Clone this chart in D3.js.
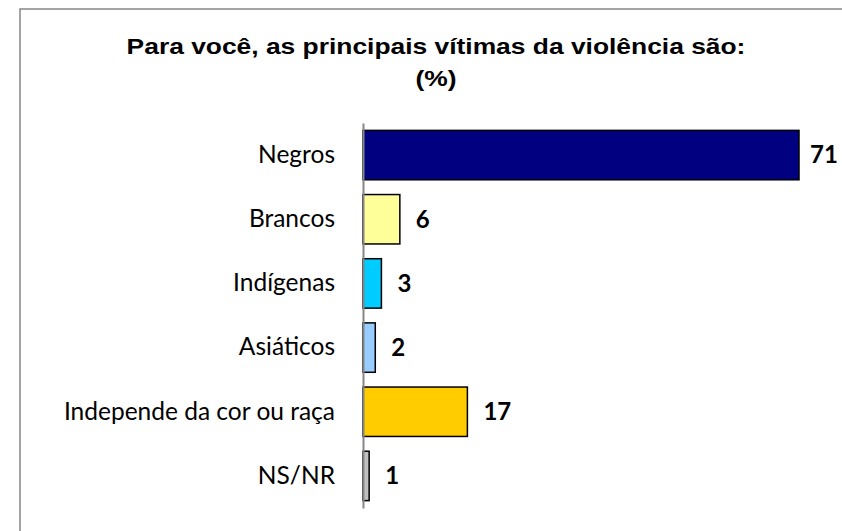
<!DOCTYPE html>
<html>
<head>
<meta charset="utf-8">
<script src="https://cdn.jsdelivr.net/npm/d3@7"></script>
<style>
  body { margin: 0; background: #fff; }
</style>
</head>
<body>
<div id="chart"></div>
<script>
const titleLines = ['Para você, as principais vítimas da violência são:', '(%)'];
const categories = ['Negros', 'Brancos', 'Indígenas', 'Asiáticos', 'Independe da cor ou raça', 'NS/NR'];
const values = [71, 6, 3, 2, 17, 1];
const colors = ['#000080', '#FFFF99', '#00CCFF', '#99CCFF', '#FFCC00', '#C0C0C0'];

const data = categories.map((c, i) => ({cat: c, value: values[i], color: colors[i]}));

const svg = d3.select('#chart').append('svg').attr('width', 842).attr('height', 531);

// chart border (only top/left visible in frame)
svg.append('rect')
    .attr('x', 20).attr('y', 9)
    .attr('width', 840).attr('height', 540)
    .attr('fill', 'none')
    .attr('stroke', '#868686')
    .attr('stroke-width', 1.5);

// title is stretched a bit wider than normal, like the original picture
svg.append('text')
    .attr('transform', 'translate(436,0) scale(1.2,1)')
    .attr('text-anchor', 'middle')
    .attr('font-family', '"Liberation Sans", Arial, sans-serif')
    .attr('font-weight', 'bold')
    .attr('font-size', 22)
    .selectAll('tspan')
    .data(titleLines)
    .join('tspan')
    .attr('x', 0)
    .attr('y', (d, i) => 54 + i * 32)
    .text(d => d);

const margin = {top: 123, left: 363},
      width = 436,
      height = 385;

const x = d3.scaleLinear().domain([0, d3.max(values)]).range([0, width]);
const y = d3.scaleBand().domain(categories).range([0, height]).paddingInner(0.23).paddingOuter(0.115);

const g = svg.append('g')
    .attr('transform', `translate(${margin.left},${margin.top})`);

g.selectAll('rect.bar')
    .data(data)
    .join('rect')
    .attr('class', 'bar')
    .attr('x', 0)
    .attr('y', d => y(d.cat))
    .attr('width', d => x(d.value))
    .attr('height', y.bandwidth())
    .attr('fill', d => d.color)
    .attr('stroke', '#000')
    .attr('stroke-width', 1.5);

const yAxis = g.append('g')
    .call(d3.axisLeft(y).tickSize(0).tickPadding(28));
yAxis.select('.domain').attr('stroke', '#868686').attr('stroke-width', 2);
yAxis.selectAll('text')
    .attr('font-family', 'Lato, "Open Sans", sans-serif')
    .attr('font-size', 24.5)
    .attr('fill', '#000');

g.selectAll('text.val')
    .data(data)
    .join('text')
    .attr('class', 'val')
    .attr('x', d => Math.min(x(d.value) + 16, width + 11))
    .attr('y', d => y(d.cat) + y.bandwidth() / 2)
    .attr('dy', '0.35em')
    .attr('font-family', 'Lato, "Open Sans", sans-serif')
    .attr('font-weight', 'bold')
    .attr('font-size', 24)
    .text(d => d.value);
</script>
</body>
</html>
